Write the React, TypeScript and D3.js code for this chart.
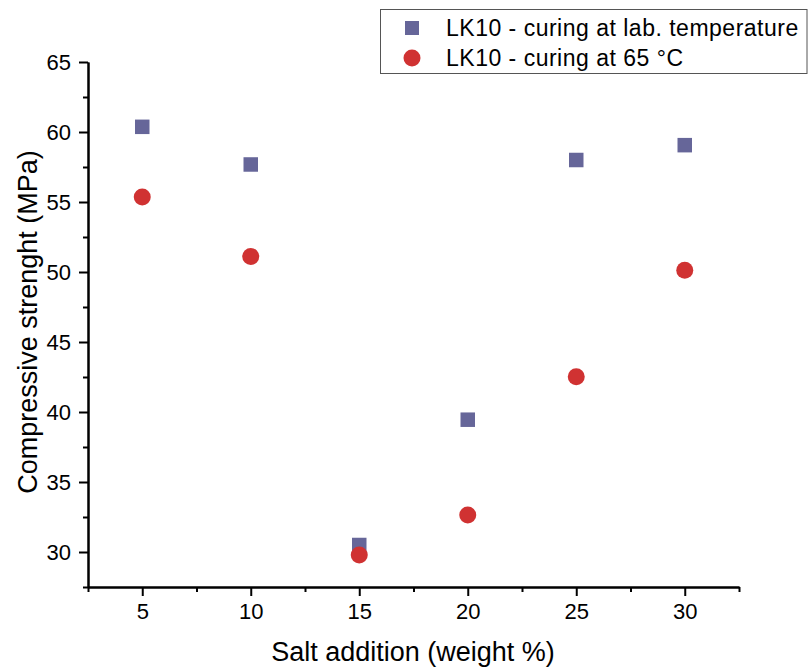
import React, { useEffect, useRef } from 'react';
import * as d3 from 'd3';

// salt addition (weight %)
const saltLevels = [5, 10, 15, 20, 25, 30];
// compressive strength (MPa)
const labCuring = [60.37, 57.68, 30.5, 39.45, 58.0, 59.06];
const curing65 = [55.36, 51.11, 29.78, 32.64, 42.52, 50.13];

const seriesNames = ['LK10 - curing at lab. temperature', 'LK10 - curing at 65 °C'];
const xMajorTicks = [5, 10, 15, 20, 25, 30];
const xMinorTicks = [2.5, 7.5, 12.5, 17.5, 22.5, 27.5, 32.5];
const yMajorTicks = [30, 35, 40, 45, 50, 55, 60, 65];
const yMinorTicks = [27.5, 32.5, 37.5, 42.5, 47.5, 52.5, 57.5, 62.5];

const W = 808;
const H = 668;
const FONT = "'Liberation Sans', Arial, sans-serif";
const SQ_COLOR = '#666699';
const CIRC_COLOR = '#d03232';

export default function App() {
  const ref = useRef<SVGSVGElement>(null);

  useEffect(() => {
    const svg = d3.select(ref.current);
    svg.selectAll('*').remove();

    const x = d3.scaleLinear().domain([2.5, 32.5]).range([88, 739]);
    const y = d3.scaleLinear().domain([27.5, 65]).range([587, 62]);

    // x axis
    const gx = svg.append('g').attr('transform', `translate(0,${y(27.5)})`);
    gx.call(d3.axisBottom(x).tickValues(xMajorTicks).tickSize(9).tickSizeOuter(0).tickPadding(7).tickFormat(d3.format('d')));
    const gxm = svg.append('g').attr('transform', `translate(0,${y(27.5)})`);
    gxm.call(d3.axisBottom(x).tickValues(xMinorTicks).tickSize(5).tickSizeOuter(0).tickFormat(() => ''));

    // y axis
    const gy = svg.append('g').attr('transform', `translate(${x(2.5)},0)`);
    gy.call(d3.axisLeft(y).tickValues(yMajorTicks).tickSize(9).tickSizeOuter(0).tickPadding(8).tickFormat(d3.format('d')));
    const gym = svg.append('g').attr('transform', `translate(${x(2.5)},0)`);
    gym.call(d3.axisLeft(y).tickValues(yMinorTicks).tickSize(5).tickSizeOuter(0).tickFormat(() => ''));

    svg.selectAll('.domain').attr('stroke', '#000').attr('stroke-width', 2);
    svg.selectAll('.tick line').attr('stroke', '#000').attr('stroke-width', 2);
    svg.selectAll('.tick text').attr('font-family', FONT).attr('font-size', 22).attr('fill', '#000');

    // axis titles
    svg.append('text')
      .attr('x', 413).attr('y', 661)
      .attr('text-anchor', 'middle')
      .attr('font-family', FONT).attr('font-size', 27)
      .text('Salt addition (weight %)');
    svg.append('text')
      .attr('transform', 'translate(37,322) rotate(-90)')
      .attr('text-anchor', 'middle')
      .attr('font-family', FONT).attr('font-size', 27)
      .text('Compressive strenght (MPa)');

    // series: squares
    const sq = 14.5;
    svg.append('g').selectAll('rect')
      .data(saltLevels)
      .enter().append('rect')
      .attr('x', (d) => x(d) - sq / 2)
      .attr('y', (d, i) => y(labCuring[i]) - sq / 2)
      .attr('width', sq).attr('height', sq)
      .attr('fill', SQ_COLOR);

    // series: circles
    svg.append('g').selectAll('circle')
      .data(saltLevels)
      .enter().append('circle')
      .attr('cx', (d) => x(d))
      .attr('cy', (d, i) => y(curing65[i]))
      .attr('r', 8.5)
      .attr('fill', CIRC_COLOR);

    // legend
    const lg = svg.append('g');
    lg.append('rect')
      .attr('x', 380.5).attr('y', 9.5).attr('width', 426.5).attr('height', 64)
      .attr('fill', '#fff').attr('stroke', '#555').attr('stroke-width', 1);
    lg.append('rect')
      .attr('x', 412 - 7).attr('y', 28 - 7).attr('width', 14).attr('height', 14)
      .attr('fill', SQ_COLOR);
    lg.append('circle')
      .attr('cx', 412).attr('cy', 58).attr('r', 8.5)
      .attr('fill', CIRC_COLOR);
    seriesNames.forEach((name, i) => {
      lg.append('text')
        .attr('x', 446).attr('y', 36 + i * 30)
        .attr('font-family', FONT).attr('font-size', 23)
        .attr('letter-spacing', 0.5)
        .text(name);
    });
  }, []);

  return (
    <div style={{ position: 'absolute', left: 0, top: 0 }}>
      <svg ref={ref} width={W} height={H} style={{ display: 'block', background: '#fff' }} />
    </div>
  );
}
